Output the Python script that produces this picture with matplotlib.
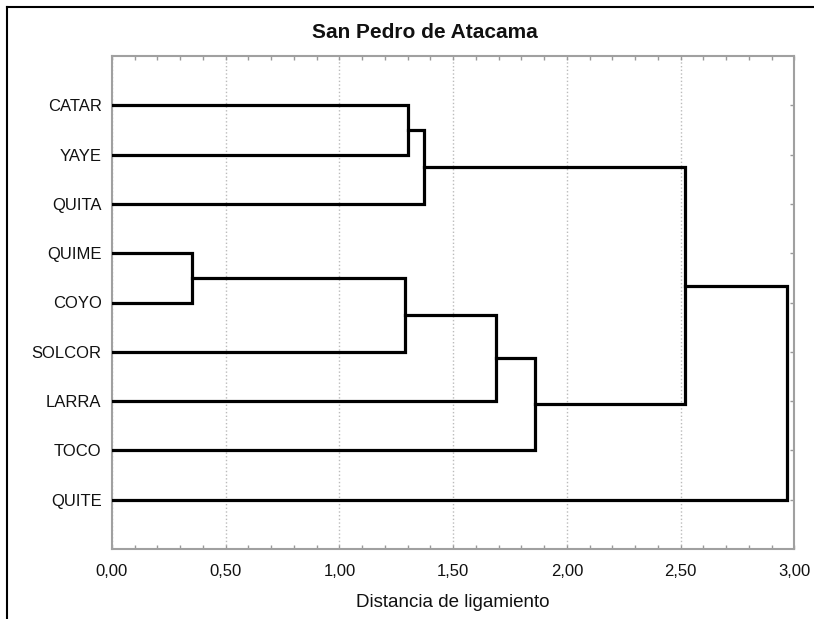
import matplotlib
matplotlib.use('Agg')
import matplotlib.pyplot as plt
from matplotlib.lines import Line2D
import numpy as np

plt.rcParams['font.family'] = ['Liberation Sans', 'DejaVu Sans']

# Hojas del dendrograma (de arriba hacia abajo)
hojas = ['CATAR', 'YAYE', 'QUITA', 'QUIME', 'COYO', 'SOLCOR', 'LARRA', 'TOCO', 'QUITE']

# Uniones: C1, C2, ... en el orden de la lista
union_izq = ['CATAR', 'C1', 'QUIME', 'C3', 'C4', 'C5', 'C2', 'C7']
union_der = ['YAYE', 'QUITA', 'COYO', 'SOLCOR', 'LARRA', 'TOCO', 'C6', 'QUITE']
union_dist = [1.30, 1.37, 0.35, 1.29, 1.69, 1.86, 2.52, 2.97]

ticks_x = [0.0, 0.5, 1.0, 1.5, 2.0, 2.5, 3.0]
etiquetas_x = ['0,00', '0,50', '1,00', '1,50', '2,00', '2,50', '3,00']

fig = plt.figure(figsize=(8.14, 6.19), dpi=100)
ax = fig.add_axes([112 / 814, 70 / 619, (794.3 - 112) / 814, (549 - 56) / 619])

# posiciones y alturas de cada nodo
pos = {h: i + 1 for i, h in enumerate(hojas)}
alt = {h: 0.0 for h in hojas}
for i, (a, b, d) in enumerate(zip(union_izq, union_der, union_dist)):
    ax.plot([alt[a], d, d, alt[b]], [pos[a], pos[a], pos[b], pos[b]],
            color='black', lw=2.3, solid_joinstyle='miter', zorder=3)
    nombre = 'C%d' % (i + 1)
    pos[nombre] = (pos[a] + pos[b]) / 2
    alt[nombre] = d

ax.set_xlim(0, 3.0)
ax.set_ylim(10, 0)

ax.set_xticks(ticks_x)
ax.set_xticklabels(etiquetas_x, fontsize=12, color='#111111')
ax.set_xticks(np.arange(0, 3.01, 0.1), minor=True)
ax.set_yticks(range(1, len(hojas) + 1))
ax.set_yticklabels(hojas, fontsize=12, color='#111111')

ax.tick_params(axis='x', which='both', direction='in', top=True, bottom=True,
               length=3, width=1, color='#999999', pad=11)
ax.tick_params(axis='y', direction='in', left=False, right=True,
               labelleft=True, length=3, width=1, color='#999999', pad=7.5)

ax.grid(axis='x', which='major', color='#bbbbbb', linestyle=':', lw=1)
ax.set_axisbelow(True)

for s in ax.spines.values():
    s.set_color('#a0a0a0')
    s.set_linewidth(1.5)

ax.set_xlabel('Distancia de ligamiento', fontsize=13.5, color='#111111', labelpad=10.5)

fig.text(425 / 814, 1 - 33 / 619, 'San Pedro de Atacama', ha='center', va='center',
         fontsize=15, fontweight='bold', color='#111111')

# marco exterior (solo arriba e izquierda visibles)
fig.add_artist(Line2D([7 / 814, 1.0], [1 - 7 / 619, 1 - 7 / 619], color='black', lw=1.5,
                      transform=fig.transFigure))
fig.add_artist(Line2D([7 / 814, 7 / 814], [0.0, 1 - 7 / 619], color='black', lw=1.5,
                      transform=fig.transFigure))

fig.savefig('out.png', dpi=100)
